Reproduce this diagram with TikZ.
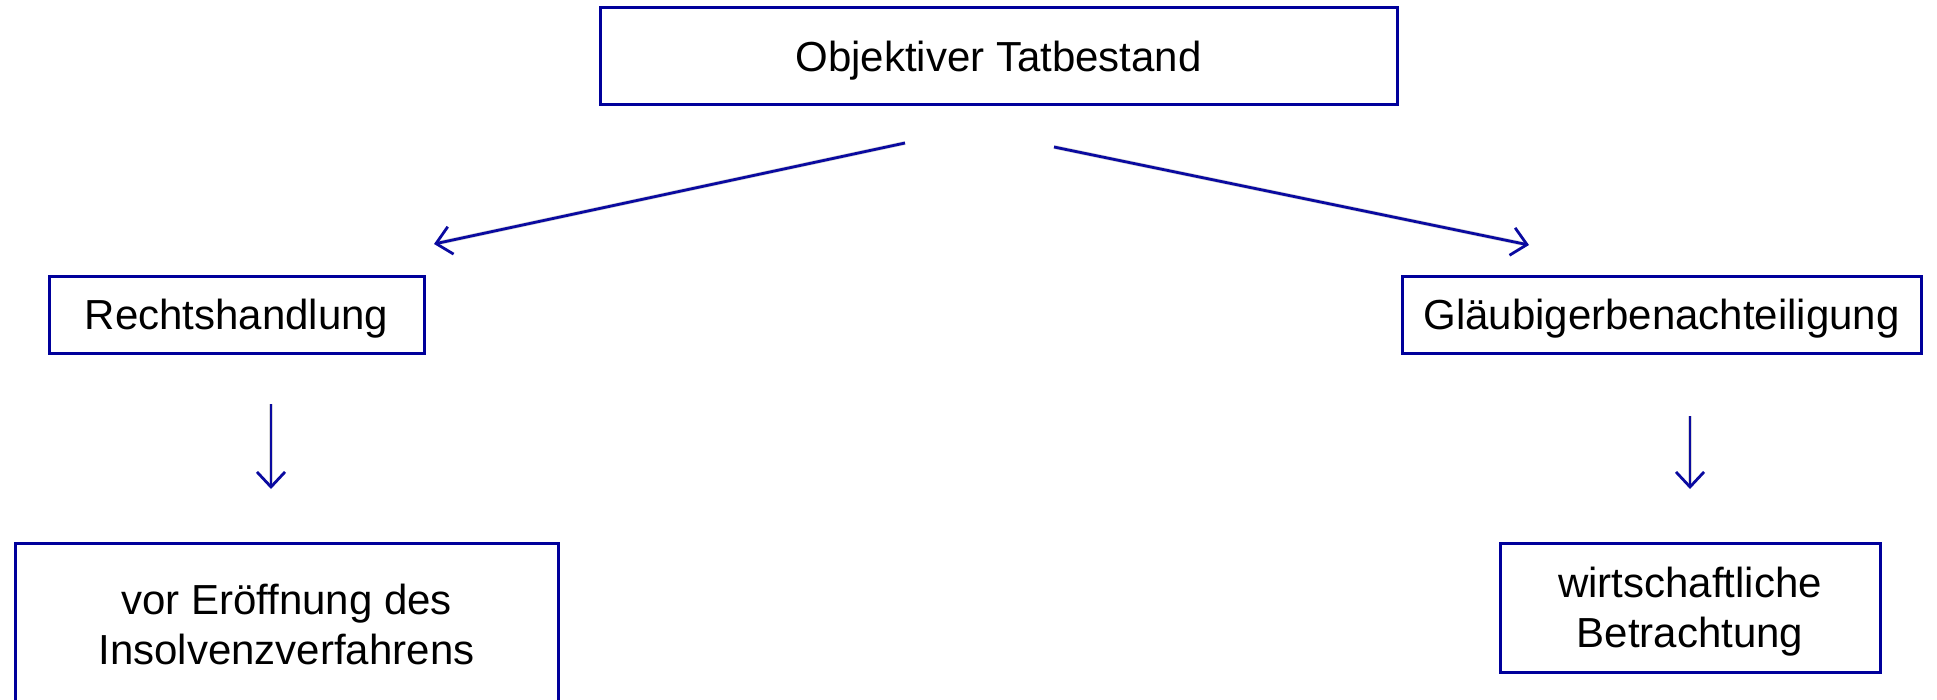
\documentclass[tikz,border=0pt]{standalone}
\usepackage{fontspec}
\setmainfont{Liberation Sans}
\usetikzlibrary{arrows.meta}
\definecolor{boxblue}{RGB}{0,0,155}
\definecolor{arrblue}{RGB}{10,10,160}
\tikzset{
  box/.style={draw=boxblue, line width=3pt, rectangle, inner sep=0pt, align=center,
    font=\fontsize{42}{50}\selectfont, text=black, text depth=0pt},
  oneline/.style={text height=30pt},
  conn/.style={draw=arrblue, line width=2.8pt,
    -{Straight Barb[length=15pt,width=28pt,line width=2.8pt]}},
  shadowline/.style={draw=black!15, line width=4pt, shorten >=4pt}
}
\begin{document}
\begin{tikzpicture}[x=1pt,y=-1pt]
\useasboundingbox (0,0) rectangle (1937,699);
\clip (0,0) rectangle (1937,699);
\fill[white] (0,0) rectangle (1937,699);

\node[box, oneline, minimum width=797pt, minimum height=97pt] (top) at (998.5,56) {Objektiver Tatbestand};
\node[box, oneline, minimum width=375pt, minimum height=77pt] (rechts) at (236.5,314.5) {Rechtshandlung};
\node[box, oneline, minimum width=519pt, minimum height=77pt] (glaeub) at (1661.5,314.5) {Gläubigerbenachteiligung};
\node[box, minimum width=543pt, minimum height=163pt] (vor) at (286.5,624.7) {vor Eröffnung des\\Insolvenzverfahrens};
\node[box, minimum width=380pt, minimum height=129pt] (wirt) at (1690,607.5) {wirtschaftliche\\Betrachtung};

\coordinate (l1s) at (905,143);
\coordinate (l1e) at (434,244);
\coordinate (r1s) at (1054,147);
\coordinate (r1e) at (1529,245);
\coordinate (l2s) at (271,404);
\coordinate (l2e) at (271,489);
\coordinate (r2s) at (1690,416);
\coordinate (r2e) at (1690,489);

% soft shadows
\begin{scope}[shift={(2,3)}]
\draw[shadowline] (l1s) -- (l1e);
\draw[shadowline] (r1s) -- (r1e);
\draw[shadowline] (l2s) -- (l2e);
\draw[shadowline] (r2s) -- (r2e);
\end{scope}

\draw[conn] (l1s) -- (l1e);
\draw[conn] (r1s) -- (r1e);
\draw[conn] (l2s) -- (l2e);
\draw[conn] (r2s) -- (r2e);
\end{tikzpicture}
\end{document}
